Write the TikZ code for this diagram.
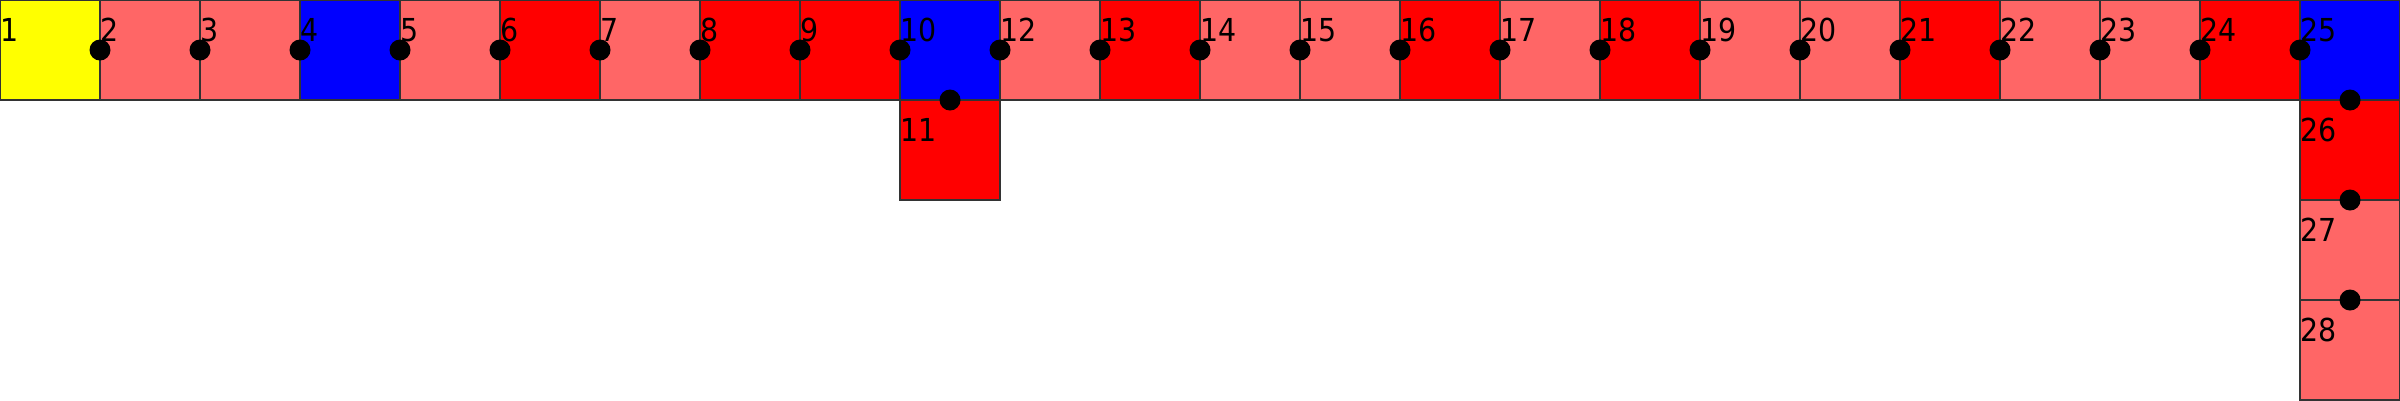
\documentclass[tikz,border=0pt]{standalone}
\usepackage{fontspec}
\setmainfont{DejaVu Sans Condensed}
\definecolor{cy}{HTML}{FFFF00}
\definecolor{cl}{HTML}{FF6666}
\definecolor{cb}{HTML}{0000FF}
\definecolor{cr}{HTML}{FF0000}
\tikzset{
  cell/.style={draw=black!80, line width=0.35pt, minimum size=1cm, inner sep=0pt, outer sep=0pt, anchor=north west},
  lab/.style={anchor=base west, inner sep=0pt, font=\fontsize{9pt}{11pt}\selectfont},
  dot/.style={fill=black}
}
\begin{document}
\begin{tikzpicture}
\useasboundingbox (0,0) rectangle (24,4);
% top row
\foreach \n/\x/\c in {1/0/cy,2/1/cl,3/2/cl,4/3/cb,5/4/cl,6/5/cr,7/6/cl,8/7/cr,9/8/cr,10/9/cb,
  12/10/cl,13/11/cr,14/12/cl,15/13/cl,16/14/cr,17/15/cl,18/16/cr,19/17/cl,20/18/cl,21/19/cr,
  22/20/cl,23/21/cl,24/22/cr,25/23/cb}{
  \node[cell, fill=\c] (s\n) at (\x,4) {};
}
\node[cell, fill=cr] (s11) at (9,3) {};
\node[cell, fill=cr] (s26) at (23,3) {};
\node[cell, fill=cl] (s27) at (23,2) {};
\node[cell, fill=cl] (s28) at (23,1) {};
\foreach \n in {1,...,28}{
  \node[lab] (l\n) at ([yshift=-0.41cm]s\n.north west) {\n};
}
% connection dots
\foreach \a/\b in {1/2,2/3,3/4,4/5,5/6,6/7,7/8,8/9,9/10,10/12,12/13,13/14,14/15,15/16,16/17,17/18,18/19,19/20,20/21,21/22,22/23,23/24,24/25}{
  \fill[dot] (s\a.east) circle (0.105);
}
\foreach \a/\b in {10/11,25/26,26/27,27/28}{
  \fill[dot] (s\a.south) circle (0.105);
}
\end{tikzpicture}
\end{document}
